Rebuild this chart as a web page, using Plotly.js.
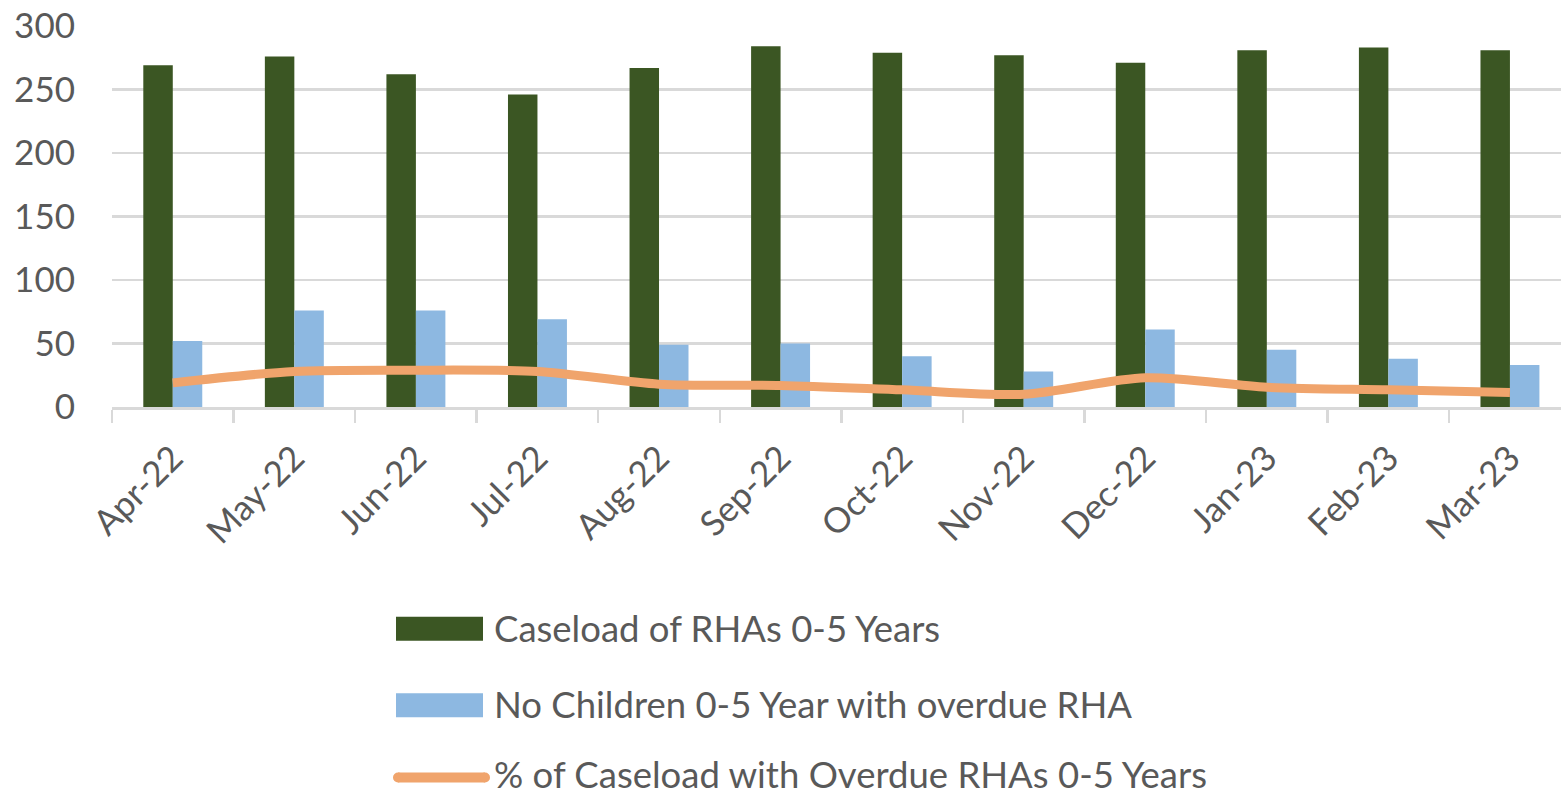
<!DOCTYPE html>
<html>
<head>
<meta charset="utf-8">
<script src="https://cdn.plot.ly/plotly-3.0.1.min.js"></script>
<style>
  html, body { margin: 0; padding: 0; background: #ffffff; overflow: hidden; }
  #chart { width: 1561px; height: 798px; }
</style>
</head>
<body>
<div id="chart"></div>
<script>
// Monthly RHA figures for children aged 0-5
const months = ['Apr-22', 'May-22', 'Jun-22', 'Jul-22', 'Aug-22', 'Sep-22',
                'Oct-22', 'Nov-22', 'Dec-22', 'Jan-23', 'Feb-23', 'Mar-23'];
const caseload = [269, 276, 262, 246, 267, 284, 279, 277, 271, 281, 283, 281];
const overdue = [52, 76, 76, 69, 49, 50, 40, 28, 61, 45, 38, 33];
const overduePct = [19, 28, 29, 28, 18, 17, 13.5, 10, 23, 15.5, 13.5, 11.5];

const seriesNames = [
  'Caseload of RHAs 0-5 Years',
  'No Children 0-5 Year with overdue RHA',
  '% of Caseload with Overdue RHAs 0-5 Years'
];

const GREEN = '#3B5623';
const BLUE = '#8DB8E1';
const ORANGE = '#F0A46C';
const TEXT = '#595959';
const GRID = '#D9D9D9';
const FONT = 'Lato, "Open Sans", sans-serif';

// Plot area geometry in pixels
const W = 1561, H = 798;
const M = { l: 112, r: 0, t: 26, b: 391 };
const plotW = W - M.l - M.r;
const plotH = H - M.t - M.b;
const px = x => (x - M.l) / plotW;          // page x -> paper x
const py = y => (H - M.b - y) / plotH;      // page y -> paper y

const traces = [
  {
    type: 'bar', name: seriesNames[0], x: months, y: caseload,
    marker: { color: GREEN, line: { width: 0 } }, showlegend: false
  },
  {
    type: 'bar', name: seriesNames[1], x: months, y: overdue,
    marker: { color: BLUE, line: { width: 0 } }, showlegend: false
  },
  {
    type: 'scatter', mode: 'lines', name: seriesNames[2], x: months, y: overduePct,
    line: { color: ORANGE, width: 9, shape: 'spline', smoothing: 0.8 },
    showlegend: false
  }
];

// Legend drawn below the chart: swatch + label per series
const legendRows = [
  { y: 628.7, textY: 627.7, kind: 'box', color: GREEN },
  { y: 705.3, textY: 704.3, kind: 'box', color: BLUE },
  { y: 777.5, textY: 774, kind: 'line', color: ORANGE }
];
const shapes = [];
const annotations = [];
legendRows.forEach((row, i) => {
  if (row.kind === 'box') {
    shapes.push({
      type: 'rect', xref: 'paper', yref: 'paper',
      x0: px(396), x1: px(483), y0: py(row.y - 12), y1: py(row.y + 12),
      fillcolor: row.color, line: { width: 0 }
    });
  } else {
    shapes.push({
      type: 'line', xref: 'paper', yref: 'paper',
      x0: px(398), x1: px(485), y0: py(row.y), y1: py(row.y),
      line: { color: row.color, width: 10 }
    });
    [398, 485].forEach(cx => shapes.push({
      type: 'circle', xref: 'paper', yref: 'paper',
      xsizemode: 'pixel', ysizemode: 'pixel',
      xanchor: px(cx), yanchor: py(row.y),
      x0: -5, x1: 5, y0: -5, y1: 5,
      fillcolor: row.color, line: { width: 0 }
    }));
  }
  annotations.push({
    xref: 'paper', yref: 'paper', x: px(493), y: py(row.textY),
    xanchor: 'left', yanchor: 'middle', showarrow: false,
    borderpad: 0,
    text: seriesNames[i],
    font: { family: FONT, size: 36.5, color: TEXT }
  });
});

const layout = {
  width: W, height: H,
  margin: M,
  paper_bgcolor: '#ffffff', plot_bgcolor: '#ffffff',
  barmode: 'group', bargap: 0.515, bargroupgap: 0,
  showlegend: false,
  xaxis: {
    type: 'category',
    range: [-0.5, 11.42],
    tickson: 'boundaries',
    ticks: 'outside', ticklen: 13, tickwidth: 2.5, tickcolor: GRID,
    showline: true, linecolor: GRID, linewidth: 2.5,
    showgrid: false, zeroline: false,
    tickangle: -45,
    ticklabelstandoff: 14,
    tickfont: { family: FONT, size: 35, color: TEXT }
  },
  yaxis: {
    range: [0, 300], dtick: 50, tick0: 0,
    showgrid: true, gridcolor: GRID, gridwidth: 2.5,
    zeroline: false, showline: false, ticks: '',
    ticklabelstandoff: 36,
    tickfont: { family: FONT, size: 35, color: TEXT }
  },
  shapes: shapes,
  annotations: annotations
};

Plotly.newPlot('chart', traces, layout, { staticPlot: true, displayModeBar: false });
</script>
</body>
</html>
